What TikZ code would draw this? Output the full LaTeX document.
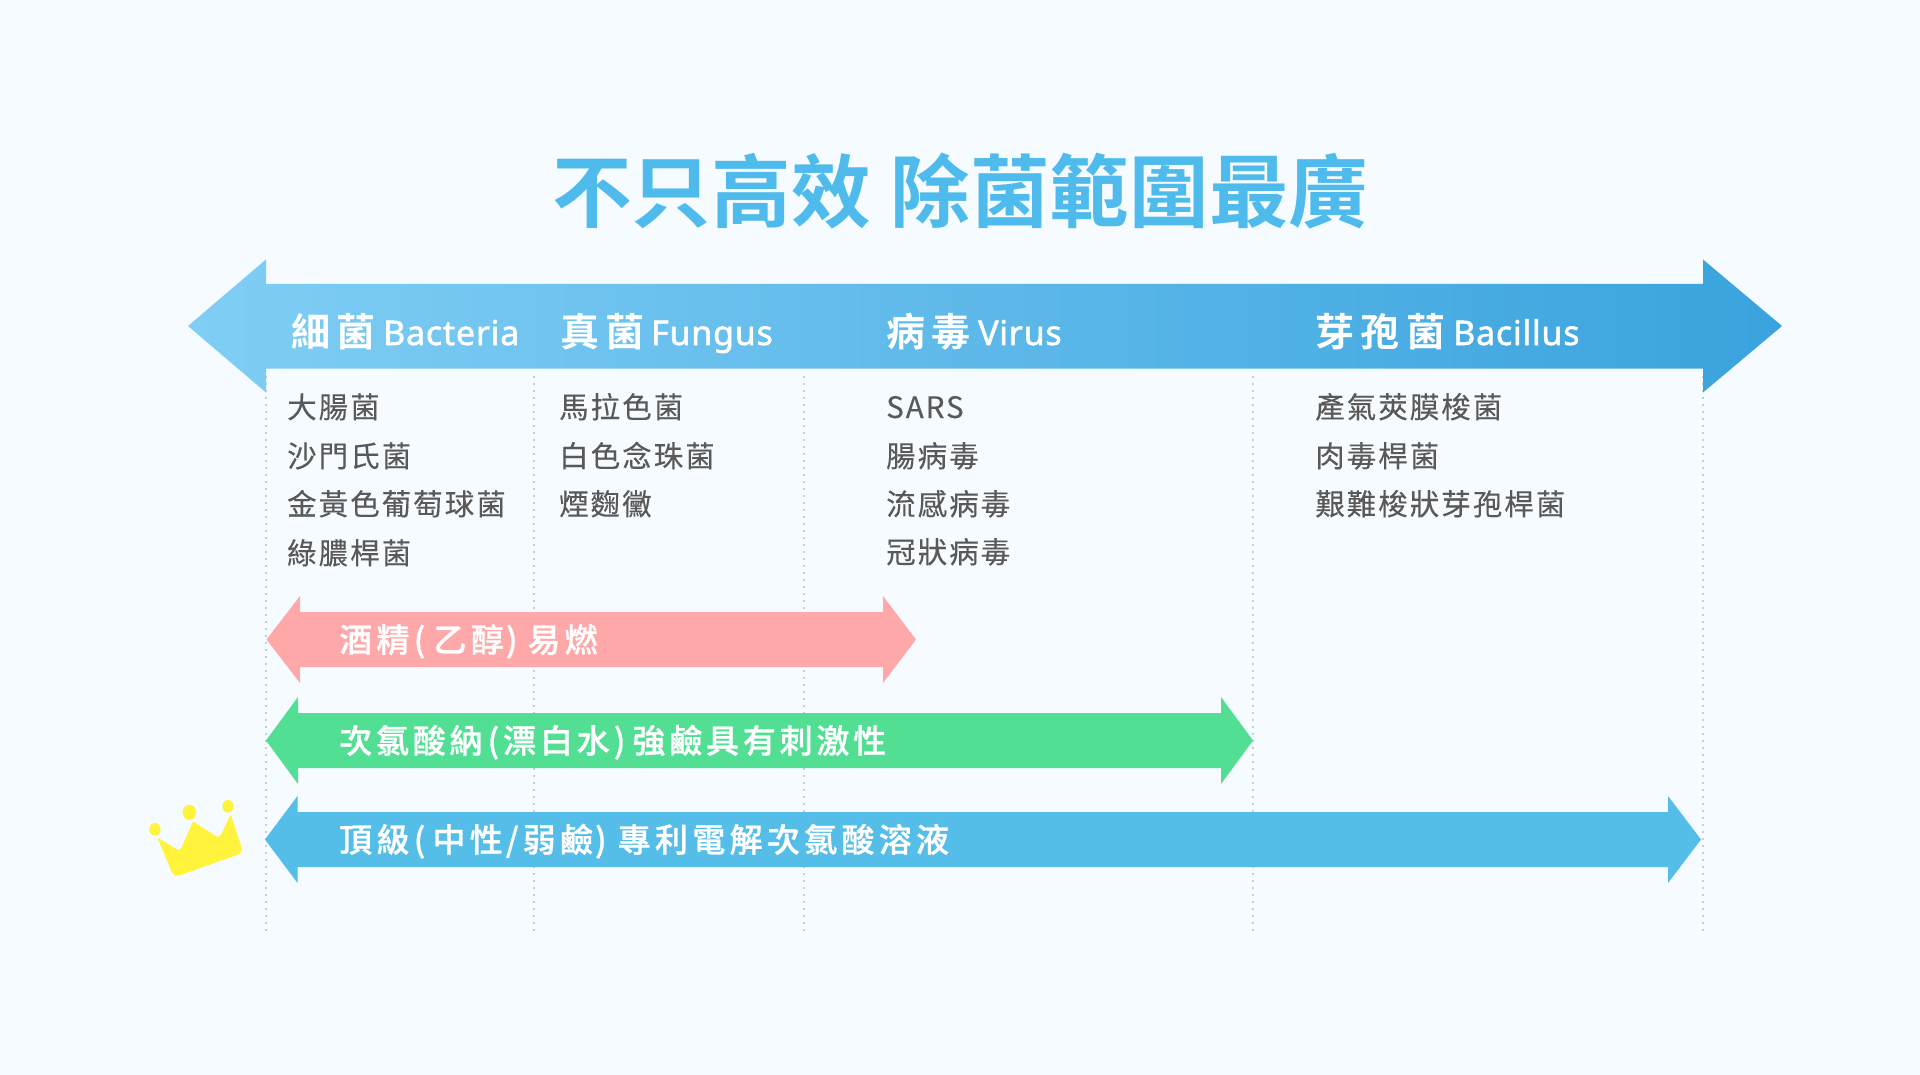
\documentclass[tikz,border=0pt]{standalone}
\usepackage{fontspec}
\setmainfont{Noto Sans}
\newfontfamily\titlefont{Noto Sans CJK TC Bold}
\newfontfamily\headfont[LetterSpace=17]{Noto Sans CJK TC Bold}
\newfontfamily\headlat[FakeBold=1.5,LetterSpace=2.2]{Noto Sans}
\newfontfamily\bodyfont[LetterSpace=6.8,FakeBold=0.2]{Noto Sans CJK TC}
\newfontfamily\labfont[LetterSpace=13,FakeBold=0.8]{Noto Sans CJK TC Medium}
\newfontfamily\labfontb[LetterSpace=11.5,FakeBold=0.8]{Noto Sans CJK TC Medium}
\definecolor{bgc}{HTML}{F6FBFF}
\definecolor{titlec}{HTML}{4FBBEC}
\definecolor{gradl}{HTML}{80CEF5}
\definecolor{gradr}{HTML}{3AA3DD}
\definecolor{pinkc}{HTML}{FFA8A9}
\definecolor{greenc}{HTML}{52DF93}
\definecolor{bluec}{HTML}{55BEE8}
\definecolor{crownc}{HTML}{FFF33C}
\definecolor{textc}{HTML}{595959}
\definecolor{dotc}{HTML}{C8CDD2}
\tikzset{
  txt/.style={inner sep=0pt,anchor=base west},
  titletxt/.style={txt,text=titlec,font=\titlefont\fontsize{79.6}{79.6}\selectfont},
  headtxt/.style={txt,text=white,font=\headfont\fontsize{39}{39}\selectfont},
  headlatin/.style={txt,text=white,font=\headlat\fontsize{34}{34}\selectfont},
  bodytxt/.style={txt,text=textc,font=\bodyfont\fontsize{29.5}{29.5}\selectfont},
  labtxt/.style={txt,text=white,font=\labfont\fontsize{33}{33}\selectfont},
  labtxtb/.style={txt,text=white,font=\labfontb\fontsize{33}{33}\selectfont},
  guide/.style={draw=dotc,line width=2.6pt,dash pattern=on 2.4pt off 4.6pt},
}
\begin{document}
\begin{tikzpicture}[x=1pt,y=-1pt]
\useasboundingbox (0,0) rectangle (1920,1075);
\fill[bgc] (0,0) rectangle (1920,1075);
% guides
\foreach \gx in {266,534,804,1253,1703}{
  \draw[guide] (\gx,376) -- (\gx,933);
}
% main arrow
\path[left color=gradl,right color=gradr]
  (188,326) -- (266,259.5) -- (266,284) -- (1703,284) -- (1703,259.5) -- (1782,326)
  -- (1703,392.5) -- (1703,368.5) -- (266,368.5) -- (266,392.5) -- cycle;
% range arrows
\fill[pinkc] (266.5,639.5) -- (300,596) -- (300,612) -- (883,612) -- (883,596) -- (916,639.5)
  -- (883,683) -- (883,667) -- (300,667) -- (300,683) -- cycle;
\fill[greenc] (266,740.5) -- (298,697) -- (298,713) -- (1221,713) -- (1221,697) -- (1253,740.5)
  -- (1221,784) -- (1221,768) -- (298,768) -- (298,784) -- cycle;
\fill[bluec] (265,839.5) -- (297.5,796) -- (297.5,812) -- (1668,812) -- (1668,796) -- (1701,839.5)
  -- (1668,883) -- (1668,867) -- (297.5,867) -- (297.5,883) -- cycle;
% crown
\begin{scope}[shift={(130,780)},x=0.3333pt,y=-0.3333pt]
  \fill[crownc] (82,172) [rounded corners=4pt] -- (150,214) [rounded corners=1.2pt] -- (189,124)
    [rounded corners=4pt] -- (268,175) [rounded corners=1.2pt] -- (302,103)
    [rounded corners=5pt] -- (340,218) -- (132,292) [rounded corners=1.2pt] -- cycle;
  \fill[crownc] (75,148) ellipse (17 and 19);
  \fill[crownc] (178,97) ellipse (20 and 23);
  \fill[crownc] (294,79) ellipse (17 and 19);
\end{scope}
% title
\node[titletxt] (title1) at (552,222) {不只高效};
\node[titletxt] (title2) at (890.5,222) {除菌範圍最廣};
% headers
\node[headtxt] (h1) at (291,346) {細菌};
\node[headlatin] (h1l) at (383,345) {Bacteria};
\node[headtxt] (h2) at (560,346) {真菌};
\node[headlatin] (h2l) at (651,345) {Fungus};
\node[headtxt] (h3) at (886,346) {病毒};
\node[headlatin] (h3l) at (978,345) {Virus};
\node[headtxt] (h4) at (1315,346) {芽孢菌};
\node[headlatin] (h4l) at (1453,345) {Bacillus};
% lists
\node[bodytxt] (a1) at (287,418) {大腸菌};
\node[bodytxt] (a2) at (287,467) {沙門氏菌};
\node[bodytxt] (a3) at (287,515) {金黃色葡萄球菌};
\node[bodytxt] (a4) at (287,564) {綠膿桿菌};
\node[bodytxt] (b1) at (559,418) {馬拉色菌};
\node[bodytxt] (b2) at (559,467) {白色念珠菌};
\node[bodytxt] (b3) at (559,515) {煙麴黴};
\node[bodytxt] (c1) at (886,418) {SARS};
\node[bodytxt] (c2) at (886,467) {腸病毒};
\node[bodytxt] (c3) at (886,515) {流感病毒};
\node[bodytxt] (c4) at (886,563) {冠狀病毒};
\node[bodytxt] (d1) at (1315,418) {產氣莢膜梭菌};
\node[bodytxt] (d2) at (1315,467) {肉毒桿菌};
\node[bodytxt] (d3) at (1315,515) {艱難梭狀芽孢桿菌};
% range labels
\node[labtxt] (l1) at (339,652) {酒精(\kern8pt 乙醇\kern2pt)\kern10pt 易燃};
\node[labtxtb] (l2) at (339,753) {次氯酸納\kern5pt(漂白水\kern4pt)\kern7pt 強鹼具有刺激性};
\node[labtxt] (l3) at (339,852) {頂級(\kern7pt 中性\kern3pt/\kern4pt 弱鹼\kern2pt)\kern11pt 專利電解次氯酸溶液};
\end{tikzpicture}
\end{document}
